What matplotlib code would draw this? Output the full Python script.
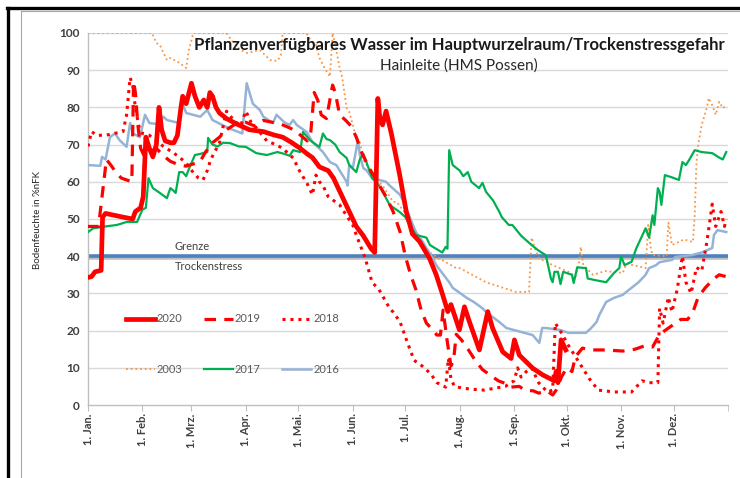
import matplotlib
matplotlib.use("Agg")
import matplotlib.pyplot as plt
import matplotlib.patheffects as pe
from matplotlib.lines import Line2D

plt.rcParams['font.family'] = ['Lato', 'DejaVu Sans']

# ---- data: day of year (0 = 1. Jan) and soil moisture in %nFK ----
d2020 = [0, 2, 4, 7.5, 8.3, 10, 15, 20, 25.5, 27, 30, 31.5, 33, 35, 37, 39, 40.5, 42, 44, 47, 49, 51, 53, 54, 56, 59,
         61, 63.5, 66, 68, 69.5, 71, 73, 75, 79, 85, 92, 100, 106, 111, 116, 121, 125, 128, 132, 137, 140, 143.5, 149,
         153, 157, 161.5, 163.5, 165.3, 166.5, 168, 170, 173, 177.7, 181.5, 185, 189, 194.8, 198.6, 202.3, 205.2, 207,
         209, 211.8, 214.7, 217.5, 223.2, 228, 230.8, 236.5, 241.3, 243.2, 246, 253.6, 259.3, 266, 267, 268, 269.8, 272.5]
v2020 = [34.3, 34.5, 35.8, 36.2, 50.5, 51.5, 51, 50.5, 50, 52, 53, 56, 72, 69, 66.7, 70, 80, 74, 71, 70.5, 70.5, 72.5, 80,
         83, 81, 86.5, 83, 80, 82, 80, 84, 83, 80, 78.5, 77, 75.5, 74, 73.5, 72.6, 72, 70.6, 69, 67.5, 66.5, 64, 63, 61,
         57.5, 52, 48, 45.5, 42, 41, 82.4, 77, 75.3, 79, 73, 62, 52, 46, 44, 39.4, 35, 29.6, 25.1, 27, 24.2, 20.2, 26.4,
         22.4, 14.8, 25.1, 20.6, 14.3, 12.5, 17.5, 13.4, 9.9, 8.1, 6.5, 9, 6, 17.5, 14.8]

d2019 = [0, 6, 10.5, 13, 16, 19, 22, 25, 26, 27, 28.5, 30, 32, 35, 39, 43, 47, 52, 56, 60, 64, 67, 71, 75, 79, 84, 90,
         95, 100, 105, 110, 115, 119, 121, 125, 127, 129, 131, 133, 136, 139.5, 141, 143.5, 147, 150, 153, 156, 160,
         165, 170, 174, 178, 181, 184, 187, 190, 193, 196, 199, 201, 202.5, 205, 207, 208.5, 210, 213, 217, 220, 222,
         225, 231, 234, 238, 241, 246, 249, 254, 257, 262, 265, 267, 270, 273, 276, 278, 282, 286, 295, 305, 312, 318,
         322, 326, 332, 338, 342, 345, 348, 352, 357, 360, 364]
v2019 = [48, 48, 66, 64.5, 62.5, 61, 60.5, 60, 87, 84, 75, 69, 67, 68, 69, 67, 65.5, 64.5, 64.2, 64.8, 65.5, 68, 70.5,
         72, 74, 75.5, 76, 75, 76.5, 76, 75.5, 74.5, 73.5, 72.6, 71, 73, 84, 82, 78, 77, 86, 84, 78, 76.5, 75, 72, 68,
         64, 60, 56, 52, 46.5, 40, 35, 31, 25.5, 22, 20.5, 18.8, 18.8, 25.5, 16.7, 10.5, 12, 19, 17.5, 14.8, 12.6, 11.3,
         9.5, 7.5, 6.5, 5.8, 4.8, 5, 4, 3.8, 3.2, 3.7, 2.7, 4, 7.5, 10, 9, 13, 15.3, 14.8, 14.8, 14.5, 15, 16, 15.6, 19,
         21, 23, 23, 25, 29, 31.5, 34, 35, 34.5]

d2018 = [0, 2, 5, 10, 15, 20, 22, 24, 25.5, 27, 29, 31, 35, 39, 43, 48, 52, 56, 60, 63, 65.6, 68, 70, 75, 79, 83, 87,
         90, 93, 96, 102, 107, 111, 117, 121, 125, 128, 130, 132, 134, 137, 143.5, 148, 151, 153, 158, 162, 166, 172,
         174, 178, 182, 186, 192, 196, 199, 204, 205.5, 207, 209, 214, 220, 226, 232, 238, 243, 245, 247, 250, 253, 257,
         262, 265, 266.5, 270, 274, 278, 282, 286, 291, 300, 310, 313, 316, 320, 325, 326, 328, 331, 333, 336, 339, 341,
         344, 347, 350, 353, 356, 358, 361, 363, 364]
v2018 = [69.5, 73.5, 72.5, 72.5, 73, 73.5, 78, 88, 86, 80, 75, 73, 72.5, 71, 69.5, 68, 66.7, 65, 62.5, 61, 60.5, 63, 66,
         70.5, 79, 76.6, 75, 79, 76, 74.5, 71, 70, 69, 66.4, 62.6, 59.5, 56.5, 61.8, 60, 59, 56, 53.8, 50.5, 48.4, 45.7,
         39.6, 33, 31, 26, 25, 22.3, 17, 12, 10, 8, 6, 4.8, 12.5, 7, 5, 4.5, 4.2, 4, 4.5, 5, 6.5, 10, 7.5, 9, 10, 6,
         3.5, 4, 22, 19.4, 16, 13, 10, 7, 4, 3.5, 3.5, 5, 6.5, 6, 6, 26, 22, 29, 25, 31, 40, 33, 30, 37, 36, 44, 54, 48,
         52, 48, 50]

d2003 = [0, 36.5, 39, 41, 45, 47, 52, 56, 57.5, 59, 60, 79, 83, 87, 91, 94, 98, 104, 108, 110, 111, 124.5, 127, 130,
         132, 135, 138, 139.5, 141, 143.5, 145, 147.5, 149, 153, 155, 157, 159, 162, 166, 168, 174, 176, 183, 185, 195,
         197, 210, 212, 227, 244, 251.5, 253, 255, 257, 265, 274, 278, 280, 281, 282.5, 288, 295, 305, 307, 318, 319.5,
         321, 322, 330, 331, 333, 340, 345, 346, 347, 348, 350, 353, 354, 356, 358, 360, 362, 364]
v2003 = [100, 100, 97.3, 96.8, 92.7, 93.3, 92, 90.6, 95.4, 98, 100, 100, 97.3, 95.4, 94.6, 95, 95.4, 92.7, 92.5, 94,
         100, 100, 98, 96.8, 93.3, 90.5, 88.3, 100, 97, 90.6, 88, 79.8, 78.8, 71.8, 70.7, 66, 64.5, 62.6, 59.9, 59,
         54.6, 54.6, 50.3, 45.7, 41, 40.3, 36.8, 36.8, 33, 30.4, 30.4, 45, 42, 39.5, 37.6, 35.8, 34.5, 38, 42.5, 37.6,
         35, 36, 35.5, 38, 36.8, 48.4, 42, 40.3, 40, 49, 43, 44.5, 43.8, 51, 65, 70, 75.3, 80, 82.5, 80.6, 78, 81.5,
         79.8, 80.5]

d2017 = [0, 3, 10, 16.5, 22, 28, 31, 33, 34.5, 37, 41, 45, 47, 49, 50, 52, 54, 56, 58, 61, 64, 68, 68.5, 71, 74, 77,
         81, 86, 90, 96, 102, 108, 112, 115, 117, 121, 122.6, 126.6, 130, 132, 134, 136, 138, 141, 143.5, 147.5, 149,
         153, 155, 157, 159, 162, 166, 170, 172, 177.7, 181, 184, 187, 193, 195, 202, 204, 205, 206, 208, 212, 214,
         216.6, 218.6, 223, 225, 227, 231, 234.6, 236, 240, 242, 247, 253, 257, 261, 262, 264, 265, 266, 268, 269.5,
         271, 276, 277, 279, 284, 285, 290, 295.5, 300, 303, 304, 306, 310, 312.6, 318, 320, 322, 323, 325, 326, 327,
         329, 333, 337, 339, 341, 343, 346, 350, 356, 360, 362, 364]
v2017 = [46.5, 47.5, 48, 48.4, 49.2, 49.2, 52.5, 53, 61, 58.3, 57, 55.6, 58.3, 57.5, 57, 62.6, 62.6, 61.5, 64, 67.2,
         67.5, 68, 71.8, 70, 69.5, 70.5, 70.4, 69.5, 69.4, 67.7, 67.2, 68, 67.5, 67, 68.5, 68, 73.4, 71.2, 70, 69.4, 73,
         71.5, 71.2, 70, 68, 66.4, 64.5, 62.6, 66, 67.5, 65, 61, 59, 55.6, 53.8, 51.9, 50.5, 48, 45.7, 45, 43, 41, 42.5,
         42, 68.5, 64.5, 63, 61.5, 62.6, 60, 58.3, 59.7, 57.3, 55, 51.9, 50.5, 48.4, 48.4, 45.5, 43, 41.5, 40.3, 38.4,
         34, 33, 35.8, 35.8, 32.5, 35.8, 35, 32.8, 37, 36.8, 34, 33.5, 33, 35.5, 36.8, 40, 37.6, 38.5, 42, 47.5, 45, 51,
         48.4, 58.3, 57.3, 53.8, 61.8, 61.2, 60.5, 65.3, 64.5, 66, 68.5, 68, 67.7, 66.5, 66, 68]

d2016 = [0, 7, 8, 10, 12.5, 15.4, 18, 22, 24, 25.6, 29.6, 32.5, 35, 40, 43, 45, 52, 53.5, 56, 64, 68, 71, 79, 83, 88,
         90.5, 94, 98, 100, 105.5, 107.5, 112, 115, 117, 119, 124.7, 128, 134, 138, 141.6, 147.5, 148, 149, 151, 154,
         155, 157, 159, 162, 170, 172, 178, 180, 183, 187, 191, 193, 196.6, 198.6, 206, 208, 216, 220, 225, 227, 234.6,
         238.6, 253.6, 257.4, 259, 261, 269, 274, 284, 287, 290, 291.6, 295.5, 300, 305, 307, 310, 314, 318, 320, 324,
         326, 333, 335, 344.5, 350, 356, 357, 359, 364]
v2016 = [64.5, 64.3, 66.7, 66, 72, 73, 71.2, 69.4, 75.8, 73, 72, 78, 75.8, 75.5, 77.5, 76.6, 75.8, 81.5, 78.5, 77.5,
         79.3, 76.6, 74.7, 73.9, 73, 86.5, 81, 79.3, 77.5, 75.8, 78, 76, 75.3, 76.6, 75.3, 73.4, 70.7, 68, 65.3, 64.5,
         60, 59, 64.5, 63.7, 71.2, 67.2, 63.7, 63, 61, 60, 59, 56.5, 54.6, 51, 46.5, 43.8, 42.2, 39.5, 37.6, 33, 31.5,
         28.8, 27.7, 26, 25, 22.3, 20.7, 18.8, 16.7, 20.7, 20.7, 20.2, 19.4, 19.4, 20.7, 22.3, 24.2, 27.7, 28.8, 29.6,
         30.4, 31.5, 33, 35, 36.8, 37.6, 38.4, 39, 39.8, 40.3, 41, 42.2, 45.7, 47, 46.5]

month_days = [0, 31, 59, 90, 120, 151, 181, 212, 243, 273, 304, 334]
month_labels = ["1. Jan.", "1. Feb.", "1. Mrz.", "1. Apr.", "1. Mai.", "1. Jun.",
                "1. Jul.", "1. Aug.", "1. Sep.", "1. Okt.", "1. Nov.", "1. Dez."]
grenze = 40

fig = plt.figure(figsize=(7.4, 4.78), dpi=100)
ax = fig.add_axes([88/740, 1-405/478, 640/740, 372/478])

grid_c = "#D9D9D9"
for v in range(10, 101, 10):
    ax.axhline(v, color=grid_c, lw=1.0, zorder=0)

ax.axhline(grenze, color="#4F81BD", lw=2.6, zorder=1,
           path_effects=[pe.SimpleLineShadow(offset=(0.8, -1.5), alpha=0.25), pe.Normal()])

l2003, = ax.plot(d2003, v2003, color="#F79646", lw=1.3, ls=(0, (1, 1.6)), label="2003", zorder=2)
l2016, = ax.plot(d2016, v2016, color="#95B3D7", lw=1.8, label="2016", zorder=3)
l2017, = ax.plot(d2017, v2017, color="#00B050", lw=1.6, label="2017", zorder=4)
l2018, = ax.plot(d2018, v2018, color="#FF0000", lw=2.2, ls=(0, (1, 1.6)), label="2018", zorder=5)
l2019, = ax.plot(d2019, v2019, color="#FF0000", lw=2.3, ls=(0, (3.6, 2.6)), label="2019", zorder=6)
l2020, = ax.plot(d2020, v2020, color="#FF0000", lw=3.4, label="2020", zorder=7, solid_joinstyle="round")

ax.text(49.5, 41.2, "Grenze", fontsize=8, color="#404040", va="bottom")
ax.text(49.5, 38.6, "Trockenstress", fontsize=8, color="#404040", va="top")

ax.legend([l2020, l2003, l2019, l2017, l2018, l2016], ["2020", "2003", "2019", "2017", "2018", "2016"],
          ncol=3, loc="upper left", bbox_to_anchor=(0.052, 0.258), frameon=False, fontsize=8,
          labelcolor="#595959", handlelength=2.6, handletextpad=0.2, columnspacing=1.9, labelspacing=3.55,
          borderaxespad=0)

ax.set_xlim(0, 365)
ax.set_ylim(0, 100)
ax.set_yticks(range(0, 101, 10))
ax.set_xticks(month_days)
ax.set_xticklabels(month_labels, rotation=90)
ax.set_xticks([365], minor=True)
for lab in ax.get_yticklabels() + ax.get_xticklabels():
    lab.set_fontweight("bold")
    lab.set_color("#404040")
ax.tick_params(axis="y", length=0, labelsize=8.5, pad=6)
ax.tick_params(axis="x", which="both", length=4, color="#BFBFBF", direction="out", labelsize=8, pad=2)
for s in ("top", "right"):
    ax.spines[s].set_visible(False)
for s in ("left", "bottom"):
    ax.spines[s].set_color("#BFBFBF")
    ax.spines[s].set_linewidth(1.0)

fig.text(459/740, 1-45/478, "Pflanzenverfügbares Wasser im Hauptwurzelraum/Trockenstressgefahr",
         ha="center", va="center", fontsize=12, fontweight="bold", color="#1A1A1A")
fig.text(459/740, 1-66/478, "Hainleite (HMS Possen)", ha="center", va="center", fontsize=11, color="#262626")
fig.text(37/740, 1-220/478, "Bodenfeuchte in %nFK", rotation=90, ha="center", va="center",
         fontsize=7, color="#262626")

# outer frame lines
fig.add_artist(Line2D([7/740, 1], [1-8/478, 1-8/478], color="black", lw=2.4))
fig.add_artist(Line2D([8/740, 8/740], [0, 1-8/478], color="black", lw=2.4))
fig.add_artist(Line2D([20.5/740, 1], [1-10.5/478, 1-10.5/478], color="#A6A6A6", lw=0.8))
fig.add_artist(Line2D([20.5/740, 20.5/740], [0, 1-10.5/478], color="#A6A6A6", lw=0.8))

fig.savefig("out.png", dpi=100)
